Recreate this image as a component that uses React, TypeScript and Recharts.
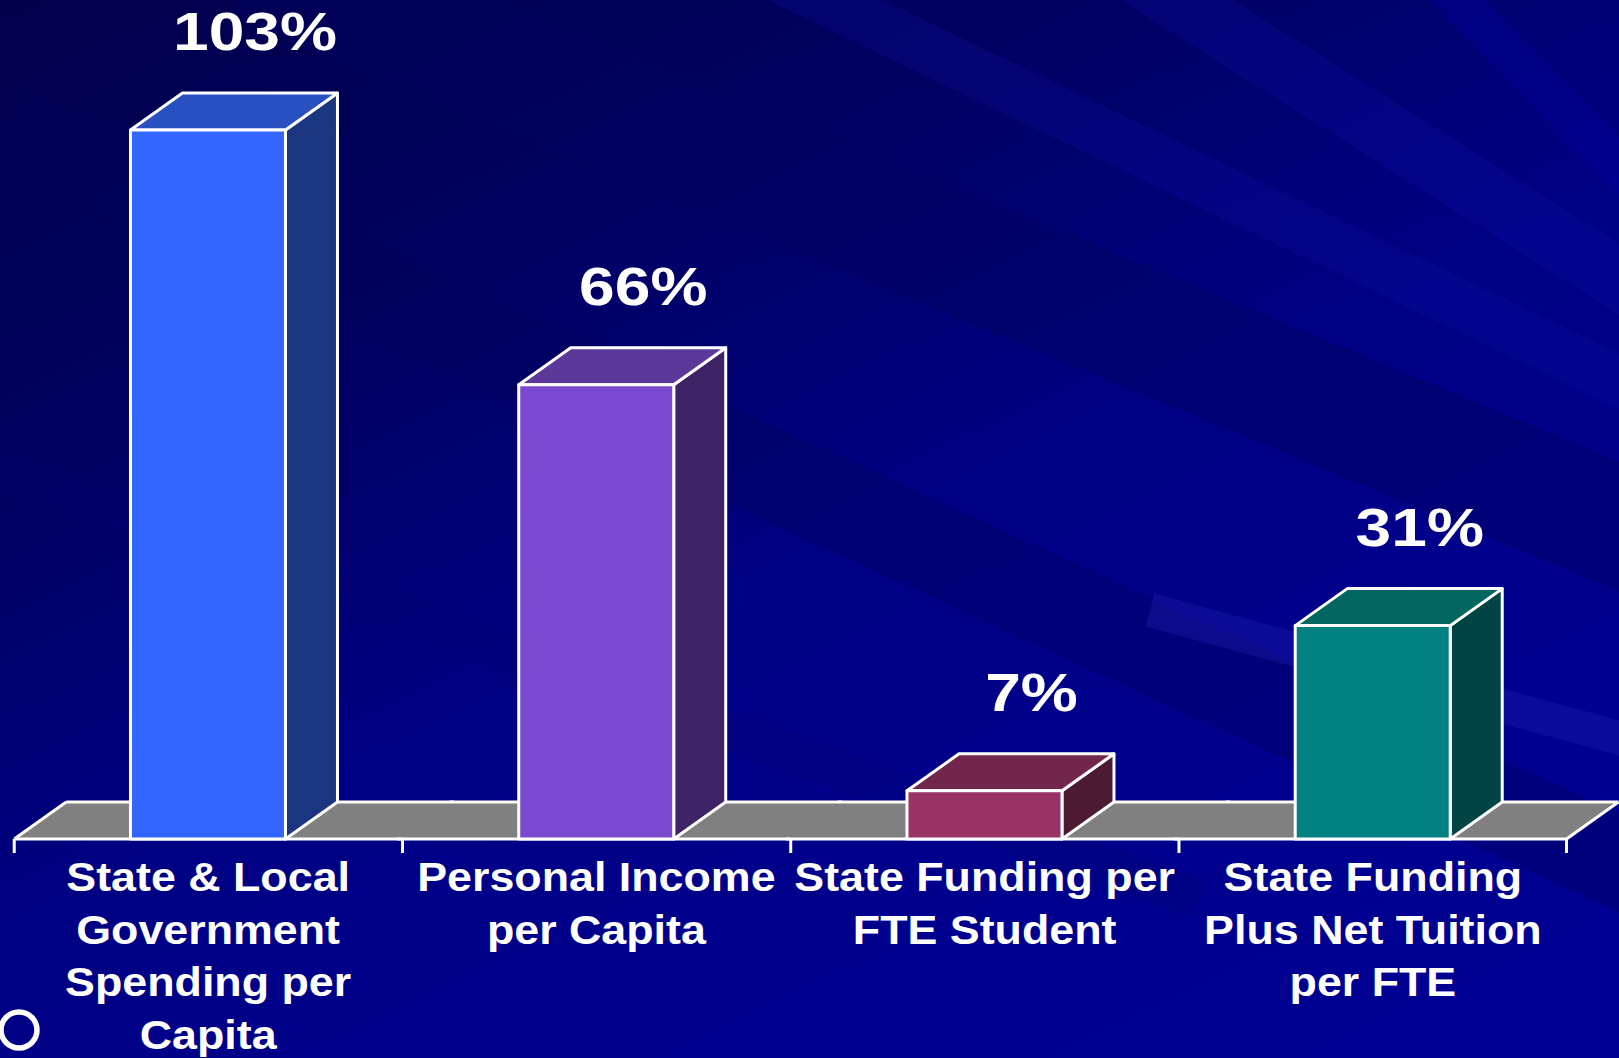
import { Bar, BarChart, LabelList, XAxis, YAxis } from 'recharts'

const categories = [
  'State & Local\nGovernment\nSpending per\nCapita',
  'Personal Income\nper Capita',
  'State Funding per\nFTE Student',
  'State Funding\nPlus Net Tuition\nper FTE',
]
const changes = [103, 66, 7, 31]

const data = categories.map((name, i) => ({ name, change: changes[i] }))

// front / top / side shades for each bar
const palette = [
  { front: '#3366ff', top: '#2850c0', side: '#1c3580' },
  { front: '#7b49cf', top: '#5b3899', side: '#3e2466' },
  { front: '#993366', top: '#73264b', side: '#4d1a33' },
  { front: '#008080', top: '#00665f', side: '#004444' },
]

const W = 1619
const H = 1058
const GAP = 0.3
const DX = 52
const DY = 37
const FLOOR = '#808080'
const FONT = '"Liberation Sans", Arial, Helvetica, sans-serif'

// background streaks: [x1, y1, x2, y2, width, color, opacity]
const streaks: [number, number, number, number, number, string, number][] = [
  [250, -40, 1700, 560, 120, '#000060', 0.45],
  [0, 120, 1700, 900, 90, '#00005a', 0.35],
  [700, -60, 1700, 420, 50, '#1010b0', 0.22],
  [1050, -80, 1700, 330, 60, '#1414b8', 0.22],
  [1380, -80, 1700, 250, 40, '#0000a8', 0.3],
  [1150, 610, 1700, 760, 34, '#2020b0', 0.35],
  [0, 470, 1200, 900, 40, '#000070', 0.3],
]

function Streak({ s }: { s: [number, number, number, number, number, string, number] }) {
  const [x1, y1, x2, y2, w, c, o] = s
  const len = Math.hypot(x2 - x1, y2 - y1)
  const nx = (-(y2 - y1) / len) * (w / 2)
  const ny = ((x2 - x1) / len) * (w / 2)
  const pts = `${x1 + nx},${y1 + ny} ${x2 + nx},${y2 + ny} ${x2 - nx},${y2 - ny} ${x1 - nx},${y1 - ny}`
  return <polygon points={pts} fill={c} opacity={o} />
}

function Bar3D(props: any) {
  const { x, y, width, height, index } = props
  const c = palette[index]
  const bandW = width / (1 - 2 * GAP)
  const bandL = x - bandW * GAP
  const bandR = bandL + bandW
  const base = y + height
  const first = index === 0
  const last = index === categories.length - 1
  const r = x + width
  const line = { stroke: '#fff', strokeWidth: 3, strokeLinejoin: 'round' as const }
  const ext = first ? 0 : 5
  const pad = first ? 0 : 2
  return (
    <g>
      <polygon
        points={`${bandL - pad},${base} ${bandR + 1},${base} ${bandR + DX + 1},${base - DY} ${bandL + DX - pad},${base - DY}`}
        fill={FLOOR}
      />
      <line x1={bandL - ext} y1={base} x2={bandR} y2={base} {...line} />
      <line x1={bandL + DX - ext} y1={base - DY} x2={bandR + DX} y2={base - DY} {...line} />
      {first && <line x1={bandL} y1={base} x2={bandL + DX} y2={base - DY} {...line} />}
      {last && <line x1={bandR} y1={base} x2={bandR + DX} y2={base - DY} {...line} />}
      <line x1={bandL} y1={base} x2={bandL} y2={base + 14} {...line} />
      {last && <line x1={bandR} y1={base} x2={bandR} y2={base + 14} {...line} />}
      <polygon
        points={`${r},${y} ${r + DX},${y - DY} ${r + DX},${base - DY} ${r},${base}`}
        fill={c.side}
        {...line}
      />
      <polygon
        points={`${x},${y} ${x + DX},${y - DY} ${r + DX},${y - DY} ${r},${y}`}
        fill={c.top}
        {...line}
      />
      <rect x={x} y={y} width={width} height={height} fill={c.front} {...line} />
    </g>
  )
}

function PctLabel(props: any) {
  const { x, y, width, value } = props
  const cx = x + width / 2 + 47
  return (
    <text
      transform={`translate(${cx},${y - 80}) scale(1.21,1)`}
      textAnchor="middle"
      fill="#fff"
      fontFamily={FONT}
      fontWeight="bold"
      fontSize={53}
    >
      {value}%
    </text>
  )
}

function CategoryTick(props: any) {
  const { x, y, payload } = props
  const lines = String(payload.value).split('\n')
  return (
    <g transform={`translate(${x},${y}) scale(1.12,1)`}>
      <text textAnchor="middle" fill="#fff" fontFamily={FONT} fontWeight="bold" fontSize={40}>
        {lines.map((l, i) => (
          <tspan key={i} x={0} y={52 + i * 52.7}>
            {l}
          </tspan>
        ))}
      </text>
    </g>
  )
}

export default function App() {
  return (
    <div
      style={{
        position: 'absolute',
        left: 0,
        top: 0,
        width: W,
        height: H,
        overflow: 'hidden',
        background:
          'linear-gradient(155deg, #00004a 0%, #000062 28%, #000084 52%, #00008e 75%, #000094 100%)',
      }}
    >
      <svg width={W} height={H} style={{ position: 'absolute', left: 0, top: 0 }}>
        {streaks.map((s, i) => (
          <Streak key={i} s={s} />
        ))}
        <circle cx={19} cy={1030} r={18} fill="none" stroke="#fff" strokeWidth={5.5} />
      </svg>
      <div style={{ position: 'absolute', left: 0, top: 0 }}>
        <BarChart
          width={W}
          height={H}
          data={data}
          margin={{ top: 130, right: 52, left: 14, bottom: 0 }}
          barCategoryGap={`${GAP * 100}%`}
        >
          <XAxis
            dataKey="name"
            interval={0}
            height={219}
            axisLine={false}
            tickLine={false}
            tickSize={0}
            tickMargin={0}
            tick={<CategoryTick />}
          />
          <YAxis hide domain={[0, 103]} />
          <Bar dataKey="change" shape={<Bar3D />} isAnimationActive={false}>
            <LabelList dataKey="change" content={<PctLabel />} />
          </Bar>
        </BarChart>
      </div>
    </div>
  )
}
